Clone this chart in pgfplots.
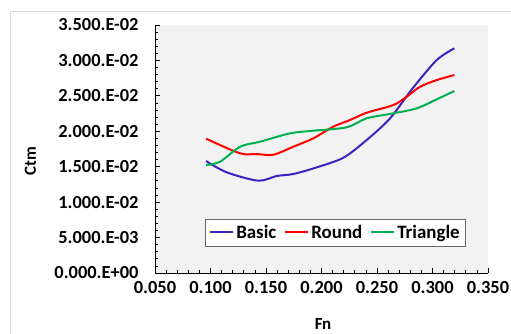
\documentclass[border=0pt]{standalone}
\usepackage{pgfplots}
\pgfplotsset{compat=1.18}
\usepackage{fontspec}
\setmainfont{Carlito}
\definecolor{cblue}{HTML}{3F22C0}
\definecolor{cred}{HTML}{FF0000}
\definecolor{cgreen}{HTML}{00B050}
\definecolor{bggray}{HTML}{F2F2F2}
\definecolor{framegray}{HTML}{D9D9D9}
\begin{document}
\begin{tikzpicture}
\useasboundingbox (0,0) rectangle (511bp,334bp);
\draw[framegray, line width=0.8bp] (10bp,0) -- (10bp,323bp) -- (512bp,323bp);
\begin{axis}[
  at={(155bp,61bp)}, anchor=south west,
  scale only axis, width=333bp, height=248bp,
  xmin=0.05, xmax=0.35, ymin=0, ymax=0.035,
  axis background/.style={fill=bggray},
  axis x line*=bottom, axis y line*=left,
  axis line style={black, line width=0.9bp},
  tick align=inside,
  major tick length=5bp, minor tick length=3bp,
  every tick/.style={black, line width=0.8bp},
  minor x tick num=4, minor y tick num=4,
  scaled x ticks=false, scaled y ticks=false,
  xtick={0.05,0.1,0.15,0.2,0.25,0.3,0.35},
  xticklabels={0.050,0.100,0.150,0.200,0.250,0.300,0.350},
  ytick={0,0.005,0.01,0.015,0.02,0.025,0.03,0.035},
  yticklabels={0.000.E+00,5.000.E-03,1.000.E-02,1.500.E-02,2.000.E-02,2.500.E-02,3.000.E-02,3.500.E-02},
  ticklabel style={font=\fontsize{18.5}{20}\selectfont\bfseries},
  xticklabel style={yshift=-4.5bp},
  yticklabel style={xshift=-13bp},
  legend columns=3,
  legend style={at={(rel axis cs:0.542,0.1635)}, anchor=center,
    draw=gray!80!black, line width=0.6bp, fill=white,
    font=\fontsize{19}{21}\selectfont\bfseries,
    inner xsep=4bp, inner ysep=4bp,
    /tikz/every even column/.append style={column sep=6bp}},
  legend image code/.code={\draw[#1, line width=2bp] (0bp,0bp) -- (23bp,0bp);},
  every axis plot/.append style={line width=2bp, smooth, tension=0.5},
]
\addplot[cblue] coordinates {
(0.096,0.0158) (0.1146,0.01421) (0.143,0.01303) (0.1596,0.01369) (0.1746,0.01397)
(0.1957,0.01491) (0.2197,0.01627) (0.2407,0.01877) (0.2618,0.02183) (0.2818,0.0260)
(0.3038,0.03005) (0.3197,0.0317)};
\addlegendentry{Basic}
\addplot[cred] coordinates {
(0.096,0.01895) (0.1266,0.01689) (0.1416,0.01679) (0.1566,0.01669) (0.1746,0.01782)
(0.1926,0.019) (0.2106,0.02065) (0.2257,0.02159) (0.2407,0.02262) (0.2647,0.0237)
(0.2768,0.02488) (0.2888,0.02629) (0.3038,0.02723) (0.3197,0.02794)};
\addlegendentry{Round}
\addplot[cgreen] coordinates {
(0.096,0.01524) (0.1086,0.0157) (0.1266,0.01782) (0.1446,0.01853) (0.1717,0.01971)
(0.1926,0.02008) (0.2227,0.02056) (0.2407,0.02183) (0.2647,0.02253) (0.2858,0.02324)
(0.3038,0.02451) (0.3197,0.02568)};
\addlegendentry{Triangle}
\end{axis}
\node[rotate=90, font=\fontsize{17}{19}\selectfont\bfseries] at (30.5bp,173bp) {Ctm};
\node[font=\fontsize{17}{19}\selectfont\bfseries] at (323bp,10bp) {Fn};
\end{tikzpicture}
\end{document}
